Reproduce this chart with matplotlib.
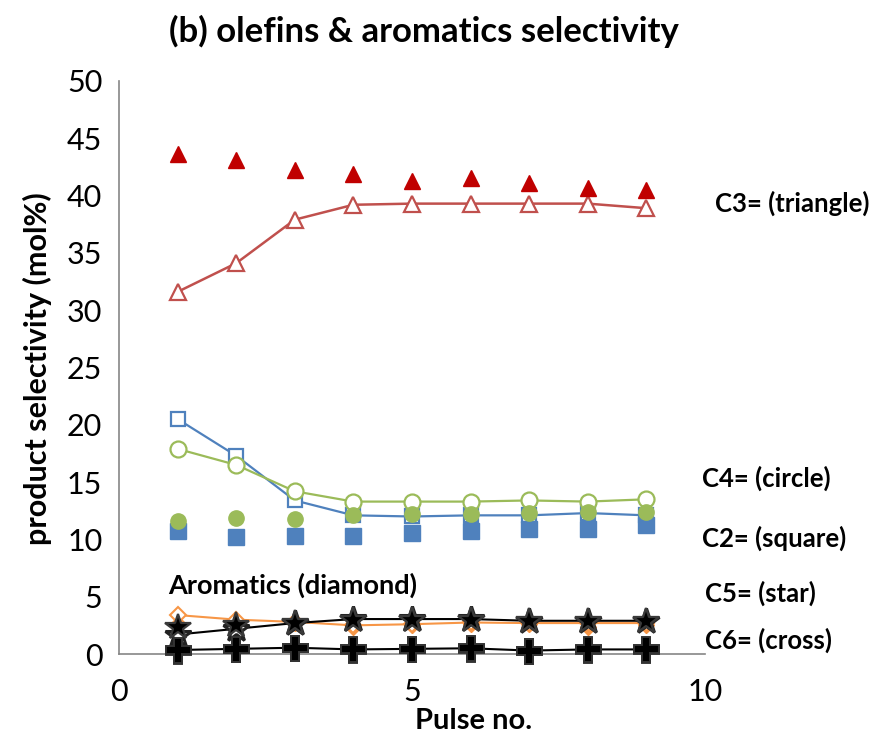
import matplotlib
matplotlib.use("Agg")
import matplotlib.pyplot as plt

# === DATA ===
pulse = [1, 2, 3, 4, 5, 6, 7, 8, 9]

c3_fill = [43.6, 43.1, 42.2, 41.9, 41.3, 41.5, 41.1, 40.7, 40.5]
c3_open = [31.6, 34.1, 37.9, 39.2, 39.3, 39.3, 39.3, 39.3, 38.9]
c2_open = [20.5, 17.3, 13.4, 12.1, 12.0, 12.1, 12.1, 12.3, 12.1]
c4_open = [17.9, 16.5, 14.2, 13.3, 13.3, 13.3, 13.4, 13.3, 13.5]
c4_fill = [11.6, 11.9, 11.8, 12.1, 12.2, 12.2, 12.3, 12.4, 12.4]
c2_fill = [10.7, 10.2, 10.3, 10.3, 10.6, 10.7, 10.9, 10.9, 11.3]
arom_open = [3.4, 3.0, 2.8, 2.5, 2.6, 2.75, 2.7, 2.7, 2.7]
arom_fill = [2.6, 2.6, 2.7, 2.4, 2.5, 2.6, 2.6, 2.4, 2.5]
c5_open = [1.7, 2.2, 2.7, 3.05, 3.05, 3.05, 2.9, 2.9, 2.9]
c5_fill = [2.4, 2.5, 2.7, 3.0, 3.0, 3.0, 2.9, 2.9, 2.9]
c6_open = [0.35, 0.45, 0.55, 0.4, 0.45, 0.5, 0.3, 0.4, 0.4]
c6_fill = [0.25, 0.4, 0.5, 0.35, 0.4, 0.45, 0.3, 0.35, 0.35]

x_ticks = [0, 5, 10]
y_ticks = [0, 5, 10, 15, 20, 25, 30, 35, 40, 45, 50]

# === STYLE ===
RED_FILL = '#C00000'
RED_OPEN = '#C0504D'
BLUE = '#4F81BD'
GREEN = '#9BBB59'
ORANGE = '#F79646'
AXIS_GREY = '#868686'
LABEL_SIZE = 18.5

plt.rcParams['font.family'] = ['Lato', 'DejaVu Sans']

fig = plt.figure(figsize=(8.73, 7.37), dpi=100)
ax = fig.add_axes([0.1363, 0.1126, 0.6712, 0.7775])

# open squares (C2, line)
ax.plot(pulse, c2_open, color=BLUE, lw=1.6, marker='s', ms=10,
        mfc='white', mec=BLUE, mew=1.6, zorder=3)
# open circles (C4, line)
ax.plot(pulse, c4_open, color=GREEN, lw=1.6, marker='o', ms=11.5,
        mfc='white', mec=GREEN, mew=1.6, zorder=3)
# filled squares / circles (no line)
ax.plot(pulse, c2_fill, ls='none', marker='s', ms=11, color=BLUE, zorder=4)
ax.plot(pulse, c4_fill, ls='none', marker='o', ms=11, color=GREEN, zorder=4)

# triangles (C3)
ax.plot(pulse, c3_open, color=RED_OPEN, lw=1.8, marker='^', ms=12,
        mfc='white', mec=RED_OPEN, mew=1.6, zorder=3)
ax.plot(pulse, c3_fill, ls='none', marker='^', ms=12, color=RED_FILL, zorder=4)

# aromatics (diamond)
ax.plot(pulse, arom_fill, ls='none', marker='D', ms=8, color=ORANGE, zorder=3)
ax.plot(pulse, arom_open, color=ORANGE, lw=1.5, marker='D', ms=8.5,
        mfc='white', mec=ORANGE, mew=1.5, zorder=3)

# C5 (star)
ax.plot(pulse, c5_open, color='black', lw=1.5, marker='*', ms=19,
        mfc='white', mec='#222222', mew=2.2, zorder=5)
ax.plot(pulse, c5_fill, ls='none', marker='*', ms=19, mfc='black',
        mec='#3a3a3a', mew=1.6, zorder=6)

# C6 (cross)
ax.plot(pulse, c6_fill, ls='none', marker='P', ms=18, mfc='black',
        mec='#3a3a3a', mew=1.4, zorder=5)
ax.plot(pulse, c6_open, color='black', lw=1.5, marker='P', ms=18,
        mfc='black', mec='#333333', mew=1.4, zorder=5)

# === AXES ===
ax.set_xlim(0, 10)
ax.set_ylim(0, 50)
ax.set_xticks(x_ticks)
ax.set_yticks(y_ticks)
ax.tick_params(length=0, labelsize=22, colors='black')
ax.tick_params(axis='x', pad=17)
ax.tick_params(axis='y', pad=12)
for side in ['top', 'right']:
    ax.spines[side].set_visible(False)
for side in ['left', 'bottom']:
    ax.spines[side].set_color(AXIS_GREY)
    ax.spines[side].set_linewidth(1.2)
for line in ax.lines:
    line.set_clip_on(False)

# === TEXT ===
fig.text(0.486, 0.958, "(b) olefins & aromatics selectivity", fontsize=25,
         fontweight='bold', ha='center', va='center')
fig.text(0.543, 0.022, "Pulse no.", fontsize=21, fontweight='bold',
         ha='center', va='center')
fig.text(0.043, 0.50, "product selectivity (mol%)", fontsize=22,
         fontweight='bold', rotation=90, ha='center', va='center')

fig.text(715 / 873, 1 - 203 / 737, "C3= (triangle)", fontsize=LABEL_SIZE,
         fontweight='bold', ha='left', va='center')
fig.text(702 / 873, 1 - 478 / 737, "C4= (circle)", fontsize=LABEL_SIZE,
         fontweight='bold', ha='left', va='center')
fig.text(702 / 873, 1 - 538 / 737, "C2= (square)", fontsize=LABEL_SIZE,
         fontweight='bold', ha='left', va='center')
fig.text(705 / 873, 1 - 593 / 737, "C5= (star)", fontsize=LABEL_SIZE,
         fontweight='bold', ha='left', va='center')
fig.text(705 / 873, 1 - 640 / 737, "C6= (cross)", fontsize=LABEL_SIZE,
         fontweight='bold', ha='left', va='center')
fig.text(168 / 873, 1 - 585 / 737, "Aromatics (diamond)", fontsize=19.5,
         fontweight='bold', ha='left', va='center')

fig.savefig("out.png", dpi=100, facecolor='white')
